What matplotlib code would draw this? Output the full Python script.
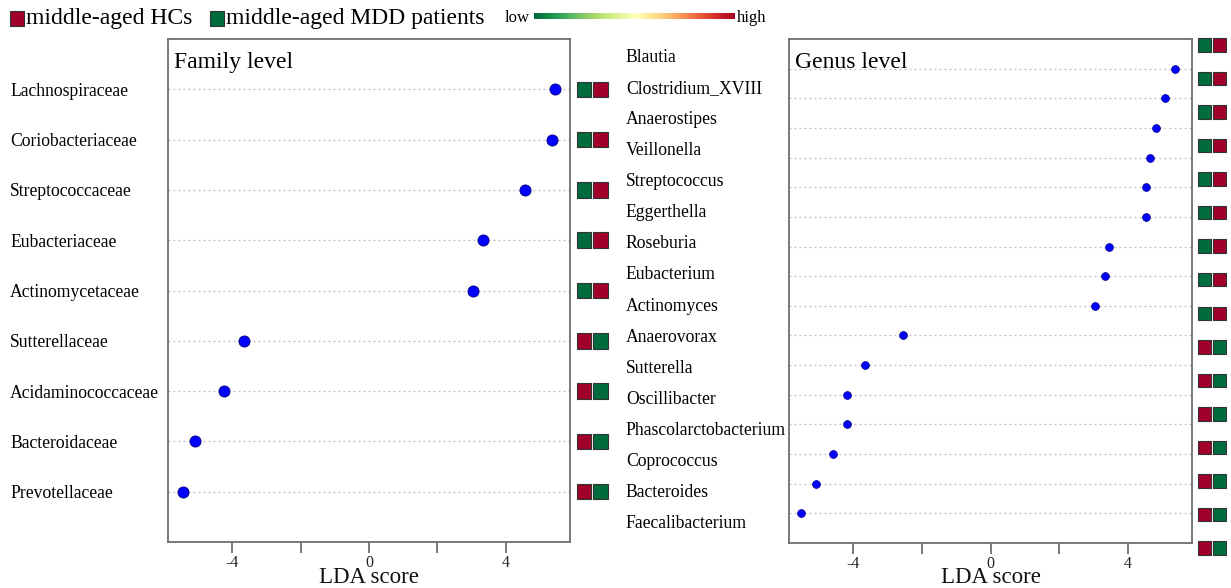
import numpy as np
import matplotlib
matplotlib.use("Agg")
import matplotlib.pyplot as plt
from matplotlib.patches import Rectangle
from matplotlib.transforms import blended_transform_factory

plt.rcParams['font.family'] = ['Liberation Serif', 'DejaVu Serif']

# ---- data -------------------------------------------------------------
family_names = ["Lachnospiraceae", "Coriobacteriaceae", "Streptococcaceae",
                "Eubacteriaceae", "Actinomycetaceae", "Sutterellaceae",
                "Acidaminococcaceae", "Bacteroidaceae", "Prevotellaceae"]
family_lda = [5.42, 5.34, 4.56, 3.34, 3.05, -3.66, -4.22, -5.08, -5.42]

genus_names = ["Blautia", "Clostridium_XVIII", "Anaerostipes", "Veillonella",
               "Streptococcus", "Eggerthella", "Roseburia", "Eubacterium",
               "Actinomyces", "Anaerovorax", "Sutterella", "Oscillibacter",
               "Phascolarctobacterium", "Coprococcus", "Bacteroides",
               "Faecalibacterium"]
genus_lda = [5.38, 5.08, 4.81, 4.66, 4.53, 4.53, 3.45, 3.33, 3.04,
             -2.54, -3.65, -4.18, -4.18, -4.59, -5.09, -5.53]

group_labels = ["middle-aged HCs", "middle-aged MDD patients"]
tick_values = [-4, -2, 0, 2, 4]
tick_labels = ["-4", "", "0", "", "4"]

RED = "#a0002a"
GREEN = "#006b3c"
DOT = "#0000ff"

W, H = 1231, 588
fig = plt.figure(figsize=(W / 100, H / 100), dpi=100)


def px_axes(x0, y0, x1, y1):
    """Add axes given pixel box (top-left origin)."""
    return fig.add_axes([x0 / W, 1 - y1 / H, (x1 - x0) / W, (y1 - y0) / H])


def style_axes(ax):
    for s in ax.spines.values():
        s.set_color("#6e6e6e")
        s.set_linewidth(1.3)
    ax.set_xlim(-5.87, 5.87)
    ax.set_xticks(tick_values)
    ax.set_xticklabels(tick_labels)
    ax.tick_params(axis='x', length=8, width=1.3, color="#6e6e6e",
                   labelsize=11.5, pad=1.5, labelcolor="#222222")
    ax.set_yticks([])
    # axis title sits on the bottom edge of the figure
    lbl = ax.set_xlabel("LDA score", fontsize=16.5, color="#111111",
                        va="bottom")
    ax.xaxis.set_label_coords(0.5, 0.0,
                              transform=blended_transform_factory(
                                  ax.transAxes, fig.transFigure))
    return lbl


def box_colors(v):
    return (GREEN, RED) if v > 0 else (RED, GREEN)


# ---- family level -------------------------------------------------------
axf = px_axes(168, 39, 570, 542)
n_f = len(family_names)
rows_f = np.arange(1, n_f + 1)
axf.set_ylim(n_f + 1, 0)
for r in rows_f:
    axf.axhline(r, color="#bdbdbd", lw=0.9, ls=(0, (1.5, 2.5)), zorder=1)
axf.scatter(family_lda, rows_f, s=64, color=DOT, edgecolor="#00007a",
            linewidth=0.6, zorder=3)
style_axes(axf)
axf.text(0.016, 0.975, "Family level", transform=axf.transAxes,
         fontsize=17, va="top", ha="left")
trf = blended_transform_factory(axf.transAxes, axf.transData)
for r, name, v in zip(rows_f, family_names, family_lda):
    axf.text(-0.393, r + 0.04, name, transform=trf, fontsize=12.7,
             ha="left", va="center")
    c1, c2 = box_colors(v)
    for k, c in enumerate((c1, c2)):
        axf.add_patch(Rectangle((1.017 + k * 0.041, r - 0.155), 0.036, 0.31,
                                transform=trf, facecolor=c,
                                edgecolor="#333333", lw=0.8, clip_on=False))

# ---- genus level --------------------------------------------------------
axg = px_axes(789, 39, 1192, 543)
n_g = len(genus_names)
rows_g = np.arange(1, n_g + 1)
axg.set_ylim(n_g + 1, 0)
for r in rows_g:
    axg.axhline(r, color="#bdbdbd", lw=0.9, ls=(0, (1.5, 2.5)), zorder=1)
axg.scatter(genus_lda, rows_g, s=32, color=DOT, edgecolor="#00007a",
            linewidth=0.5, zorder=3)
style_axes(axg)
axg.text(0.016, 0.975, "Genus level", transform=axg.transAxes,
         fontsize=17, va="top", ha="left")

# genus names column
step_lab = 31.13
axl = px_axes(620, 57 - step_lab / 2, 790, 524 + step_lab / 2)
axl.set_axis_off()
axl.set_xlim(0, 1)
axl.set_ylim(n_g - 0.5, -0.5)
for i, name in enumerate(genus_names):
    axl.text(0.035, i, name, fontsize=12.7, ha="left", va="center")

# genus abundance column
step_box = 33.53
axh = px_axes(1197, 45 - step_box / 2, 1227, 548 + step_box / 2)
axh.set_axis_off()
axh.set_xlim(0, 2)
axh.set_ylim(n_g - 0.5, -0.5)
for i, v in enumerate(genus_lda):
    c1, c2 = box_colors(v)
    for k, c in enumerate((c1, c2)):
        axh.add_patch(Rectangle((k + 0.04, i - 0.2), 0.88, 0.4,
                                facecolor=c, edgecolor="#333333", lw=0.8))

# ---- legend ------------------------------------------------------------
def fig_rect(x0, y0, x1, y1, color):
    fig.patches.append(Rectangle((x0 / W, 1 - y1 / H), (x1 - x0) / W,
                                 (y1 - y0) / H, transform=fig.transFigure,
                                 facecolor=color, edgecolor="#333333", lw=0.8))

fig_rect(10, 11, 24, 26, RED)
fig.text(26 / W, 1 - 18.5 / H, group_labels[0], fontsize=17,
         ha="left", va="center")
fig_rect(210, 11, 224, 26, GREEN)
fig.text(226 / W, 1 - 18.5 / H, group_labels[1], fontsize=17,
         ha="left", va="center")

fig.text(530 / W, 1 - 18 / H, "low", fontsize=12, ha="right", va="center")
axc = px_axes(534, 13, 735, 19)
gradient = np.linspace(0, 1, 256)[None, :]
axc.imshow(gradient, aspect="auto", cmap="RdYlGn_r")
axc.set_axis_off()
fig.text(737 / W, 1 - 18 / H, "high", fontsize=12, ha="left", va="center")

fig.savefig("out.png", dpi=100)
